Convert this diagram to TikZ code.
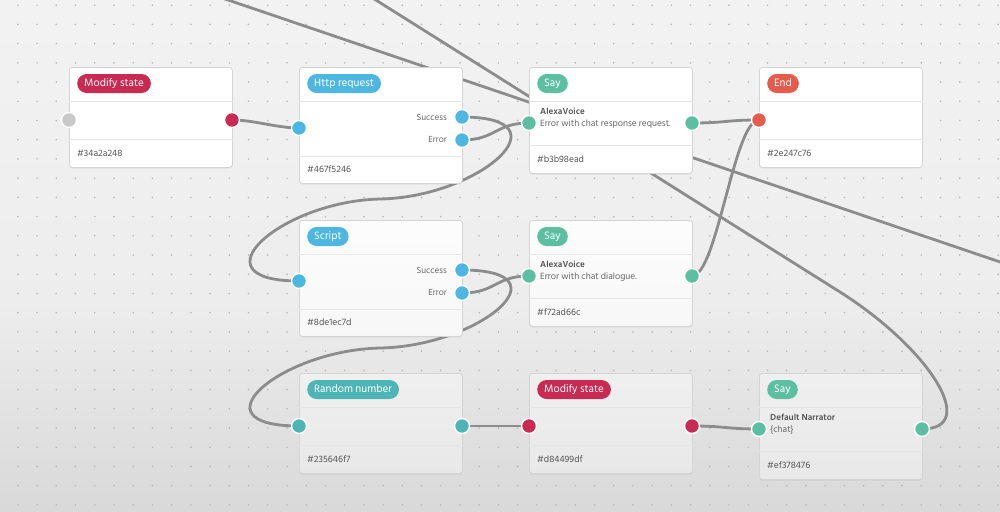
\documentclass[tikz,border=0pt]{standalone}
\usepackage{fontspec}
\setmainfont{Hind Siliguri}
\usetikzlibrary{shadows}
\definecolor{crim}{HTML}{C92A52}
\definecolor{skyb}{HTML}{4DB7E2}
\definecolor{sayg}{HTML}{5CBFA1}
\definecolor{endr}{HTML}{E35C4C}
\definecolor{rndt}{HTML}{4DB5B5}
\definecolor{portgray}{HTML}{C8C8C8}
\definecolor{wirec}{HTML}{8C8C8C}
\definecolor{boxline}{HTML}{D4D4D4}
\definecolor{sepc}{HTML}{E6E6E6}
\definecolor{footc}{HTML}{555555}
\definecolor{labc}{HTML}{666666}
\definecolor{dotc}{HTML}{B5B5B5}
\pgfdeclarelayer{bg}\pgfdeclarelayer{wires}\pgfsetlayers{bg,wires,main}
\tikzset{
  box/.style={draw=boxline, line width=0.8pt, rounded corners=3pt, minimum width=163pt, inner sep=0pt,
    drop shadow={shadow xshift=0pt, shadow yshift=-1.2pt, opacity=0.12}},
  sepline/.style={draw=sepc, line width=0.8pt},
  wire/.style={draw=wirec, line width=2.8pt},
  pill/.style={fill=#1, rounded corners=9.5pt, text=white, font=\fontsize{11}{12}\selectfont,
    minimum height=19pt, inner xsep=7pt, inner ysep=0pt, anchor=west, text height=8.5pt, text depth=2pt},
  port/.style={circle, fill=#1, draw=white, line width=1.4pt, minimum size=15pt, inner sep=0pt},
  foot/.style={anchor=west, text=footc, font=\fontsize{9.5}{10}\selectfont, inner sep=0pt},
  lbl/.style={anchor=east, text=labc, font=\fontsize{9}{10}\selectfont, inner sep=0pt},
  btitle/.style={anchor=west, text=footc, font=\fontsize{9}{10}\selectfont\bfseries, inner sep=0pt},
  bdesc/.style={anchor=west, text=labc, font=\fontsize{9.3}{10}\selectfont, inner sep=0pt},
}
\newcommand\mkbox[7]{%
  \node[box, top color=#6, bottom color=#7, minimum height=#4pt, anchor=north west] (#1) at (#2,#3) {};
  \draw[sepline] ([yshift=-34pt]#1.north west) -- ([yshift=-34pt]#1.north east);
  \draw[sepline] ([yshift=-#5pt]#1.north west) -- ([yshift=-#5pt]#1.north east);
}
\begin{document}
\begin{tikzpicture}[x=1pt,y=-1pt]
\useasboundingbox (0,0) rectangle (1000,511);
\begin{pgfonlayer}{bg}
  \shade[top color=white!95!black, bottom color=white!93!black] (0,0) rectangle (1000,300);
  \shade[top color=white!93!black, bottom color=white!85!black] (0,300) rectangle (1000,511);
  \foreach \i in {0,...,51}
    \foreach \j in {0,...,26}
      \fill[dotc] (17.9+\i*19.22, 5.2+\j*19.22) circle (0.9);
\end{pgfonlayer}

% boxes
\mkbox{m1}{69}{67}{100}{72}{white}{white}
\mkbox{ht}{299}{67}{116}{89}{white}{white}
\mkbox{s1}{529}{67}{106}{78}{white}{white}
\mkbox{en}{759}{67}{100}{72}{white}{white}
\mkbox{sc}{299}{220}{116}{89}{white!99!black}{white!97!black}
\mkbox{s2}{529}{220}{106}{78}{white!99!black}{white!97!black}
\mkbox{rn}{299}{373}{100}{72}{white!94!black}{white!91!black}
\mkbox{m2}{529}{373}{100}{72}{white!94!black}{white!91!black}
\mkbox{s3}{759}{373}{106}{78}{white!94!black}{white!91!black}

% titles
\node[pill=crim] (m1t) at (77,83.5) {Modify state};
\node[pill=skyb] (htt) at (307,83.5) {Http request};
\node[pill=sayg] (s1t) at (537,83.5) {Say};
\node[pill=endr] (ent) at (767,83.5) {End};
\node[pill=skyb] (sct) at (307,236.5) {Script};
\node[pill=sayg] (s2t) at (537,236.5) {Say};
\node[pill=rndt] (rnt) at (307,389.5) {Random number};
\node[pill=crim] (m2t) at (537,389.5) {Modify state};
\node[pill=sayg] (s3t) at (767,389.5) {Say};

% footers
\node[foot] (m1f) at (77,153) {\#34a2a248};
\node[foot] (htf) at (307,169.5) {\#467f5246};
\node[foot] (s1f) at (537,159) {\#b3b98ead};
\node[foot] (enf) at (767,153) {\#2e247c76};
\node[foot] (scf) at (307,322.5) {\#8de1ec7d};
\node[foot] (s2f) at (537,312) {\#f72ad66c};
\node[foot] (rnf) at (307,459) {\#235646f7};
\node[foot] (m2f) at (537,459) {\#d84499df};
\node[foot] (s3f) at (767,465) {\#ef378476};

% body texts
\node[lbl] (htsl) at (447,117) {Success};
\node[lbl] (htel) at (447,140) {Error};
\node[lbl] (scsl) at (447,270) {Success};
\node[lbl] (scel) at (447,293) {Error};
\node[btitle] (s1a) at (540,111.5) {AlexaVoice};
\node[bdesc] (s1b) at (540,124.5) {Error with chat response request.};
\node[btitle] (s2a) at (540,264.5) {AlexaVoice};
\node[bdesc] (s2b) at (540,277.5) {Error with chat dialogue.};
\node[btitle] (s3a) at (770,417.5) {Default Narrator};
\node[bdesc] (s3b) at (770,430.5) {\{chat\}};

% ports
\node[port=portgray] (m1in) at (69,120) {};
\node[port=crim] (m1out) at (232,120) {};
\node[port=skyb] (htin) at (299,128) {};
\node[port=skyb] (hts) at (462,117) {};
\node[port=skyb] (hte) at (462,140) {};
\node[port=sayg] (s1in) at (529,123) {};
\node[port=sayg] (s1out) at (692,123) {};
\node[port=endr] (enin) at (759,120) {};
\node[port=skyb] (scin) at (299,281) {};
\node[port=skyb] (scs) at (462,270) {};
\node[port=skyb] (sce) at (462,293) {};
\node[port=sayg] (s2in) at (529,276) {};
\node[port=sayg] (s2out) at (692,276) {};
\node[port=rndt] (rnin) at (299,426) {};
\node[port=rndt] (rnout) at (462,426) {};
\node[port=crim] (m2in) at (529,426) {};
\node[port=crim] (m2out) at (692,426) {};
\node[port=sayg] (s3in) at (759,429) {};
\node[port=sayg] (s3out) at (922,429) {};

\coordinate (afar) at (200,-9.5);
\coordinate (aend) at (1012,266);
\coordinate (bfar) at (344,-20);
\coordinate (bbend) at (840,292);
\coordinate (loopa) at (380.5,199);
\coordinate (loopb) at (380.5,348);

% wires
\begin{pgfonlayer}{wires}
  \draw[wire] (afar) -- (aend);
  \draw[wire] (s3out.center) .. controls (980,429) and (930,349) .. (bbend) -- (bfar);
  \draw[wire] (m1out.center) .. controls +(22,0) and +(-22,0) .. (htin.center);
  \draw[wire] (hts.center) .. controls +(108,0) and +(99.5,-2) .. (loopa)
                           .. controls +(-99.5,2) and +(-108,0) .. (scin.center);
  \draw[wire] (hte.center) .. controls +(34,0) and +(-34,0) .. (s1in.center);
  \draw[wire] (s1out.center) .. controls +(34,0) and +(-34,0) .. (enin.center);
  \draw[wire] (s2out.center) .. controls +(25,0) and +(-25,0) .. (enin.center);
  \draw[wire] (scs.center) .. controls +(108,0) and +(99.5,-2) .. (loopb)
                           .. controls +(-99.5,2) and +(-108,0) .. (rnin.center);
  \draw[wire] (sce.center) .. controls +(34,0) and +(-34,0) .. (s2in.center);
  \draw[wire] (rnout.center) -- (m2in.center);
  \draw[wire] (m2out.center) .. controls +(34,0) and +(-34,0) .. (s3in.center);
\end{pgfonlayer}
\end{tikzpicture}
\end{document}
